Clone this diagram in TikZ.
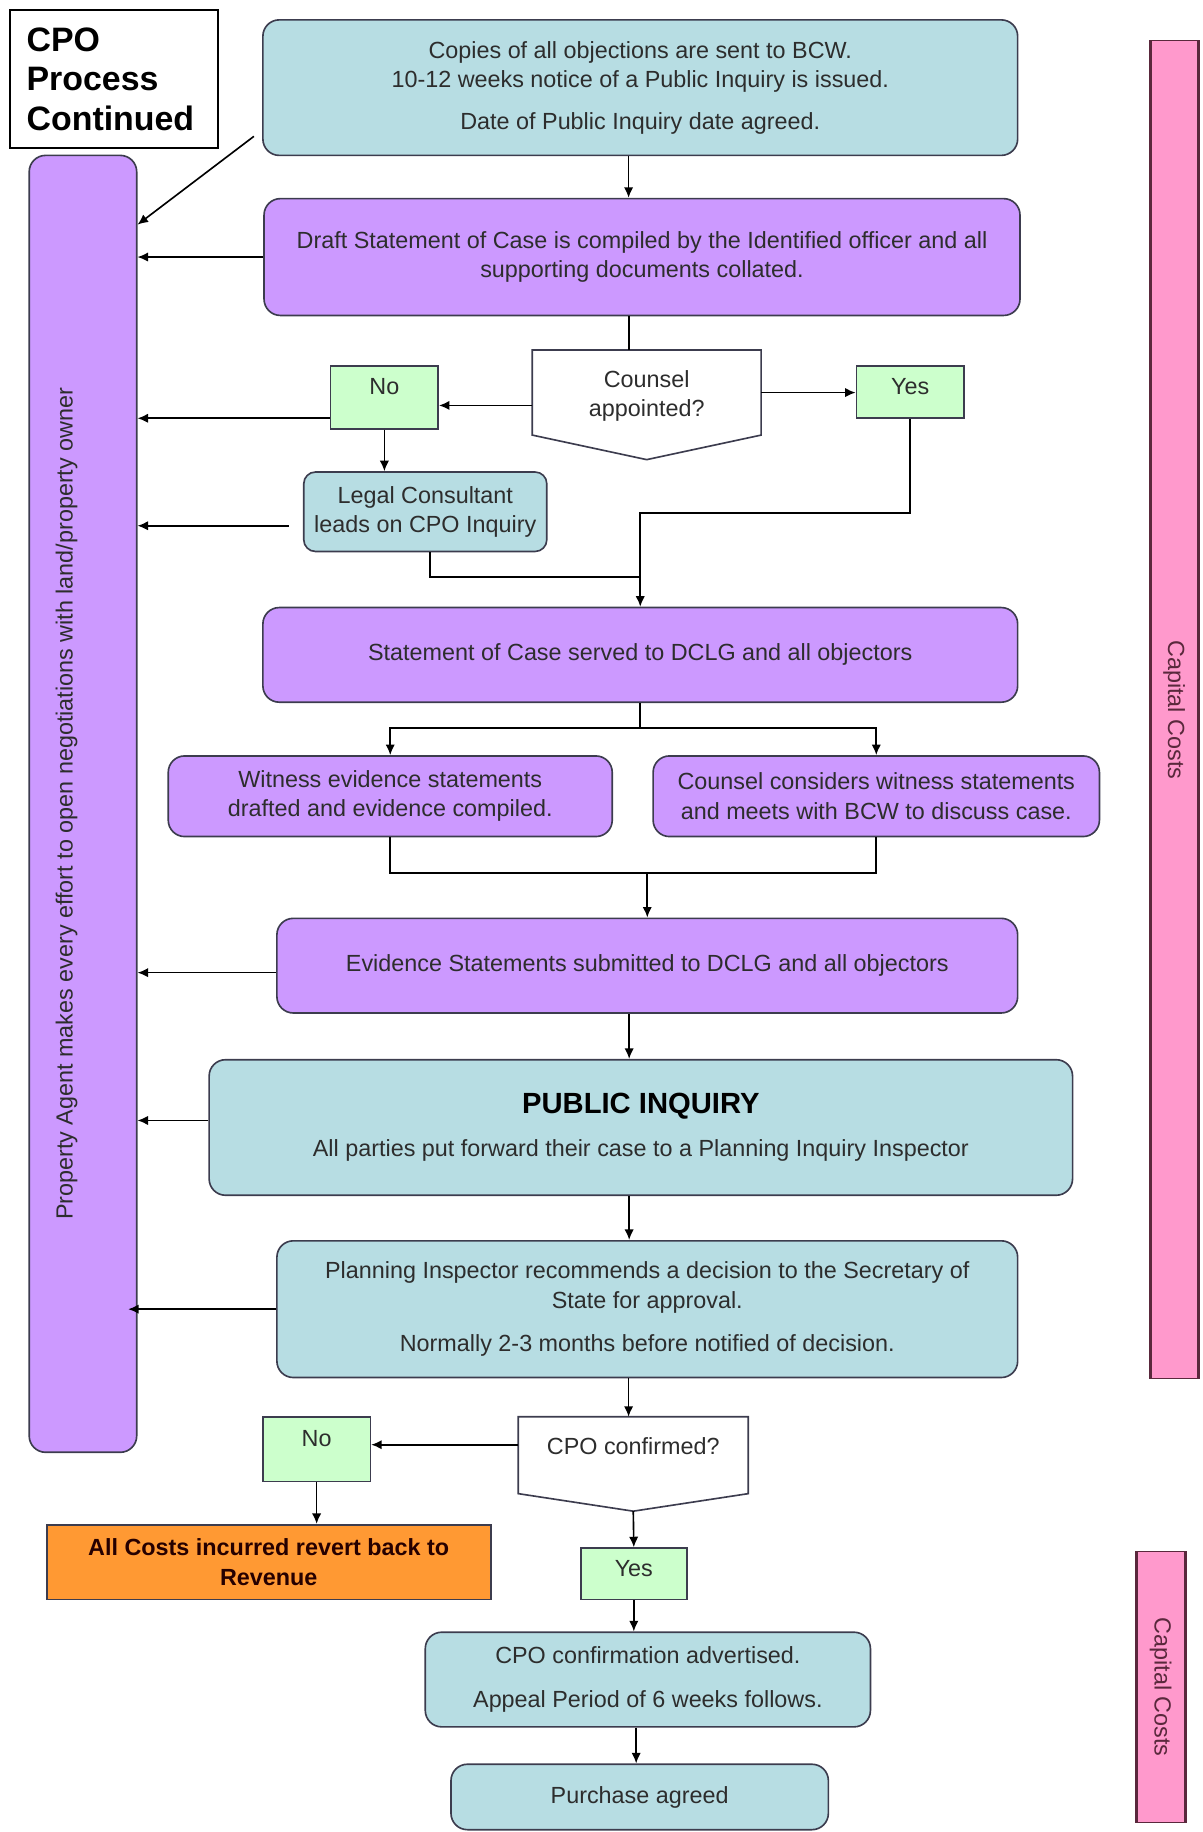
\documentclass[tikz,border=0pt]{standalone}
\usepackage{fontspec}
\setmainfont{Liberation Sans}
\usetikzlibrary{arrows.meta}

\definecolor{tealfill}{RGB}{183,221,227}
\definecolor{purplefill}{RGB}{204,153,255}
\definecolor{greenfill}{RGB}{204,255,204}
\definecolor{orangefill}{RGB}{255,153,51}
\definecolor{pinkfill}{RGB}{255,153,204}
\definecolor{boxline}{RGB}{60,60,78}
\definecolor{txtgray}{RGB}{45,45,45}
\definecolor{pinkedge}{RGB}{90,40,60}

\begin{document}
\begin{tikzpicture}[x=0.5pt, y=-0.5pt,
    every node/.style={font=\fontsize{10}{12.5}\selectfont, text=txtgray},
    box/.style={draw=boxline, line width=0.7pt, rounded corners=7pt, align=center, inner sep=0pt},
    tealbox/.style={box, fill=tealfill},
    purplebox/.style={box, fill=purplefill},
    nobox/.style={draw=boxline, line width=0.7pt, fill=greenfill, minimum width=46pt, inner sep=0pt, text depth=9pt},
    yesbox/.style={nobox, text depth=4.5pt},
    quest/.style={align=center, inner sep=0pt},
    qline/.style={draw=boxline, line width=0.7pt, fill=white},
    capbar/.style={draw=pinkedge, line width=0.5pt, fill=pinkfill, inner sep=0pt, text=pinkedge},
    capside/.style={draw=pinkedge, line width=1.4pt},
    line/.style={line width=0.7pt},
    arr/.style={-{Latex[length=4.5pt,width=4pt]}, line width=0.7pt}]
\useasboundingbox (0,0) rectangle (1029,1568);

% title and side bars
\node[anchor=north west, draw=black, line width=0.8pt, fill=white, minimum width=89pt, minimum height=59pt,
      text width=75pt, inner xsep=7pt, align=left, text=black,
      font=\bfseries\fontsize{14.5}{17}\selectfont] (title) at (8,8) {CPO\\Process\\Continued};
\node[box, fill=purplefill, minimum width=46pt, minimum height=555pt] (agent) at (71,688) {};
\node[rotate=90] (agenttext) at (57,688) {Property Agent makes every effort to open negotiations with land/property owner};

\node[capbar, rotate=-90, minimum width=572.5pt, minimum height=20pt] (capA) at (1005,607.5) {Capital Costs};
\node[capbar, rotate=-90, minimum width=116pt, minimum height=20.5pt] (capB) at (993.5,1444) {Capital Costs};
\foreach \c in {capA,capB} {
  \draw[capside] (\c.north west) -- (\c.north east);
  \draw[capside] (\c.south west) -- (\c.south east);
}

% main flow
\node[tealbox, minimum width=323pt, minimum height=58pt] (top) at (548,75)
  {Copies of all objections are sent to BCW.\\10-12 weeks notice of a Public Inquiry is issued.\\[5.5pt]Date of Public Inquiry date agreed.};
\node[purplebox, minimum width=323.5pt, minimum height=50pt] (draft) at (549.5,220)
  {Draft Statement of Case is compiled by the Identified officer and all\\supporting documents collated.};

\node[quest, minimum width=97.5pt, minimum height=36pt] (counsel) at (553.5,336) {};
\draw[qline] (counsel.north west) -- (counsel.north east) -- (counsel.south east)
  -- ([yshift=-10.5pt]counsel.south) -- (counsel.south west) -- cycle;
\node[quest] at (553.5,339) {Counsel\\appointed?};

\node[nobox, minimum height=27pt] (no1) at (329,340) {No};
\node[yesbox, minimum height=22.5pt] (yes1) at (779,335.5) {Yes};
\node[tealbox, rounded corners=5pt, minimum width=104pt, minimum height=34pt] (legal) at (364,438)
  {Legal Consultant\\leads on CPO Inquiry};

\node[purplebox, minimum width=323pt, minimum height=40.5pt] (stmt) at (548,560.5)
  {Statement of Case served to DCLG and all objectors};
\node[purplebox, minimum width=190pt, minimum height=34.5pt] (witness) at (334,681.5)
  {Witness evidence statements\\drafted and evidence compiled.};
\node[purplebox, minimum width=191pt, minimum height=34.5pt] (cons) at (750,681.5)
  {Counsel considers witness statements\\and meets with BCW to discuss case.};
\node[purplebox, minimum width=317pt, minimum height=40.5pt] (evid) at (554,826.5)
  {Evidence Statements submitted to DCLG and all objectors};
\node[tealbox, minimum width=369.5pt, minimum height=58pt] (public) at (548.5,965)
  {{\bfseries\fontsize{12.5}{15}\selectfont\color{black}PUBLIC INQUIRY}\\[6pt]All parties put forward their case to a Planning Inquiry Inspector};
\node[tealbox, minimum width=317pt, minimum height=58.5pt] (planning) at (554,1120.5)
  {Planning Inspector recommends a decision to the Secretary of\\State for approval.\\[6pt]Normally 2-3 months before notified of decision.};

\node[quest, minimum width=98pt, minimum height=32.5pt] (cpoq) at (542,1245.5) {};
\draw[qline] (cpoq.north west) -- (cpoq.north east) -- (cpoq.south east)
  -- ([yshift=-7.5pt]cpoq.south) -- (cpoq.south west) -- cycle;
\node[quest] at (542,1238) {CPO confirmed?};

\node[nobox, minimum height=27.5pt] (no2) at (271,1240.5) {No};
\node[draw=boxline, line width=0.7pt, fill=orangefill, minimum width=190pt, minimum height=32pt,
      align=center, inner sep=0pt, text=black!85!red, font=\bfseries\fontsize{10}{12.5}\selectfont] (revenue) at (230,1337)
  {All Costs incurred revert back to\\Revenue};
\node[yesbox, minimum width=45.5pt, minimum height=22pt] (yes2) at (542.5,1347) {Yes};
\node[tealbox, minimum width=190.5pt, minimum height=40.5pt] (confirm) at (554.5,1437.5)
  {CPO confirmation advertised.\\[6pt]Appeal Period of 6 weeks follows.};
\node[tealbox, minimum width=161.5pt, minimum height=28pt] (purchase) at (547.5,1538) {Purchase agreed};

% connectors
\coordinate (yesturn) at (548,439);
\coordinate (legalturn) at (548,494);
\coordinate (split) at (548,623);
\coordinate (merge) at (554,747);

\draw[arr] ([xshift=-3.5pt,yshift=8.5pt]top.south west) -- ([yshift=-30pt]agent.north east);
\draw[arr] ([xshift=-5pt]top.south) -- ([xshift=-5pt]top.south |- draft.north);
\draw[arr] (draft.west) -- (draft.west -| agent.east);
\draw[line] ([xshift=-5.5pt]draft.south) -- ([xshift=-5.5pt]draft.south |- counsel.north);
\draw[arr] ([yshift=-5.5pt]counsel.west) -- ([yshift=-5.5pt]counsel.west -| no1.east);
\draw[arr] (counsel.east) -- (counsel.east -| yes1.west);
\draw[arr] ([yshift=-9pt]no1.west) -- ([yshift=-9pt]no1.west -| agent.east);
\draw[arr] (no1.south) -- (no1.south |- legal.north);
\draw[arr, shorten <=6pt] ([yshift=-6pt]legal.west) -- ([yshift=-6pt]legal.west -| agent.east);
\draw[line] ([xshift=2pt]legal.south) |- (legalturn);
\draw[arr] (yes1.south) |- (yesturn) -- (stmt.north);
\draw[line] (stmt.south) -- (split);
\draw[arr] (split) -| (witness.north);
\draw[arr] (split) -| (cons.north);
\draw[line] (witness.south) |- (merge);
\draw[line] (cons.south) |- (merge);
\draw[arr] (merge) -- (evid.north);
\draw[arr] ([yshift=-3pt]evid.west) -- ([yshift=-3pt]evid.west -| agent.east);
\draw[arr] ([xshift=-5pt]public.north |- evid.south) -- ([xshift=-5pt]public.north);
\draw[arr] ([yshift=3pt]public.west) -- ([yshift=3pt]public.west -| agent.east);
\draw[arr] ([xshift=-5pt]public.south) -- ([xshift=-5pt]public.south |- planning.north);
\draw[arr] (planning.west) -- ([xshift=-4pt]planning.west -| agent.east);
\draw[arr] ([xshift=-2pt]cpoq.north |- planning.south) -- ([xshift=-2pt]cpoq.north);
\draw[arr] ([yshift=4.5pt]cpoq.west) -- ([yshift=4.5pt]cpoq.west -| no2.east);
\draw[arr] (no2.south) -- (no2.south |- revenue.north);
\draw[arr] ([yshift=-7.5pt]cpoq.south) -- (yes2.north);
\draw[arr] (yes2.south) -- (yes2.south |- confirm.north);
\draw[arr] ([xshift=-1.5pt]purchase.north |- confirm.south) -- ([xshift=-1.5pt]purchase.north);
\end{tikzpicture}
\end{document}
